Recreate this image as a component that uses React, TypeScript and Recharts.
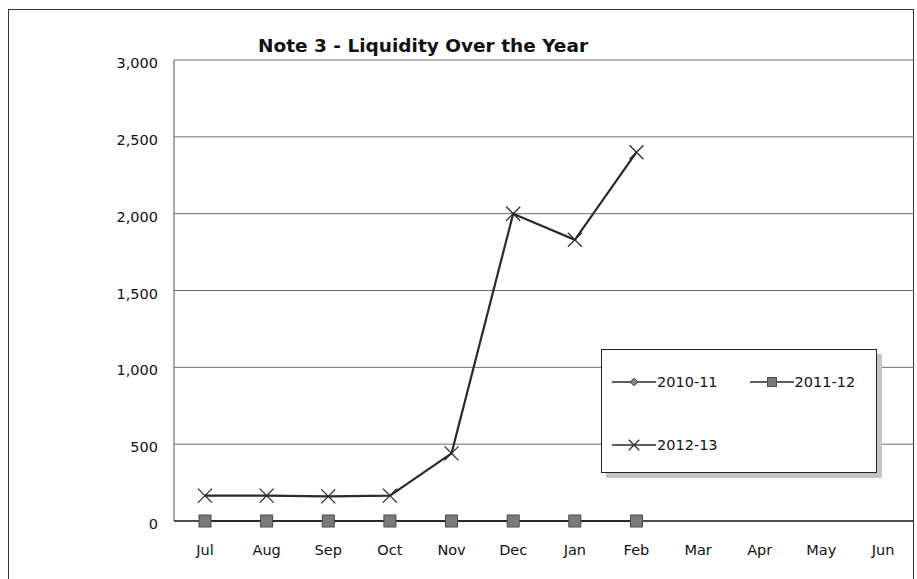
import { CartesianGrid, Legend, Line, LineChart, XAxis, YAxis } from 'recharts';

const months = ['Jul', 'Aug', 'Sep', 'Oct', 'Nov', 'Dec', 'Jan', 'Feb', 'Mar', 'Apr', 'May', 'Jun'];
const fy1011 = [0, 0, 0, 0, 0, 0, 0, 0, null, null, null, null];
const fy1112 = [0, 0, 0, 0, 0, 0, 0, 0, null, null, null, null];
const fy1213 = [165, 165, 160, 165, 440, 2000, 1830, 2400, null, null, null, null];
const yTicks = [0, 500, 1000, 1500, 2000, 2500, 3000];

const series = [
  { key: 'fy1011', name: '2010-11', marker: 'diamond' },
  { key: 'fy1112', name: '2011-12', marker: 'square' },
  { key: 'fy1213', name: '2012-13', marker: 'cross' },
];

const rows = months.map((month, i) => ({
  month,
  fy1011: fy1011[i],
  fy1112: fy1112[i],
  fy1213: fy1213[i],
}));

const FONT = '"DejaVu Sans", Verdana, sans-serif';
const INK = '#2a2a2a';

function Marker({ kind, x, y, s = 1 }: { kind: string; x: number; y: number; s?: number }) {
  if (kind === 'square') {
    const h = 6 * s;
    return <rect x={x - h} y={y - h} width={h * 2} height={h * 2} fill="#7a7a7a" stroke="#4a4a4a" strokeWidth={1} />;
  }
  if (kind === 'cross') {
    const h = 7 * s;
    return (
      <g stroke={INK} strokeWidth={1.3}>
        <line x1={x - h} y1={y - h} x2={x + h} y2={y + h} />
        <line x1={x - h} y1={y + h} x2={x + h} y2={y - h} />
      </g>
    );
  }
  const h = 5 * s;
  return <path d={`M${x},${y - h}L${x + h},${y}L${x},${y + h}L${x - h},${y}Z`} fill="#888" stroke={INK} />;
}

const dotFor = (kind: string) => (props: any) => {
  const { cx, cy, index } = props;
  if (cx == null || cy == null || Number.isNaN(cy)) return <g key={index} />;
  return (
    <g key={index}>
      <Marker kind={kind} x={cx} y={cy} />
    </g>
  );
};

function LegendBox() {
  const item = (s: (typeof series)[number]) => (
    <div key={s.key} style={{ display: 'flex', alignItems: 'center', height: 20 }}>
      <svg width={44} height={16}>
        <line x1={0} y1={8} x2={44} y2={8} stroke={INK} strokeWidth={1.6} />
        <Marker kind={s.marker} x={22} y={8} s={0.75} />
      </svg>
      <span style={{ marginLeft: 1 }}>{s.name}</span>
    </div>
  );
  return (
    <div
      style={{
        width: 276,
        height: 124,
        boxSizing: 'border-box',
        border: '1.5px solid #222',
        background: '#fff',
        boxShadow: '5px 5px 0 #c4c4c4',
        fontFamily: FONT,
        fontSize: 14.5,
        color: '#111',
        padding: '22px 0 0 10px',
      }}
    >
      <div style={{ display: 'flex', gap: 32 }}>
        {item(series[0])}
        {item(series[1])}
      </div>
      <div style={{ marginTop: 43 }}>{item(series[2])}</div>
    </div>
  );
}

export default function App() {
  return (
    <div style={{ position: 'absolute', left: 0, top: 0, width: 917, height: 579, background: '#fff', overflow: 'hidden' }}>
      <div
        style={{
          position: 'absolute',
          left: 8,
          top: 9,
          width: 906,
          height: 600,
          border: '1.5px solid #333',
          boxSizing: 'border-box',
        }}
      />
      <div
        style={{
          position: 'absolute',
          left: 258,
          top: 35,
          fontFamily: FONT,
          fontWeight: 'bold',
          fontSize: 18.5,
          color: '#111',
          whiteSpace: 'nowrap',
        }}
      >
        Note 3 - Liquidity Over the Year
      </div>
      <LineChart
        width={917}
        height={579}
        data={rows}
        margin={{ top: 60, right: 3, bottom: 0, left: 0 }}
        style={{ position: 'absolute', left: 0, top: 0 }}
      >
        <CartesianGrid vertical={false} stroke="#6e6e6e" strokeWidth={1} />
        <XAxis
          dataKey="month"
          height={58}
          padding={{ left: 31, right: 31 }}
          axisLine={{ stroke: INK, strokeWidth: 1.5 }}
          tickLine={false}
          tickSize={0}
          tickMargin={24}
          tick={{ fontFamily: FONT, fontSize: 14.5, fill: '#111' }}
          interval={0}
        />
        <YAxis
          width={174}
          domain={[0, 3000]}
          ticks={yTicks}
          axisLine={{ stroke: '#555', strokeWidth: 1 }}
          tickLine={false}
          tickSize={0}
          tickMargin={16}
          tick={{ fontFamily: FONT, fontSize: 14.5, fill: '#111', dy: 3 }}
          tickFormatter={(v: number) => v.toLocaleString('en-US')}
        />
        <Legend
          layout="horizontal"
          verticalAlign="middle"
          align="center"
          wrapperStyle={{ left: 601, top: 349, width: 276, height: 124 }}
          content={() => <LegendBox />}
        />
        {series.map((s) => (
          <Line
            key={s.key}
            dataKey={s.key}
            name={s.name}
            type="linear"
            stroke={INK}
            strokeWidth={2.2}
            dot={dotFor(s.marker)}
            activeDot={false}
            isAnimationActive={false}
          />
        ))}
      </LineChart>
    </div>
  );
}
